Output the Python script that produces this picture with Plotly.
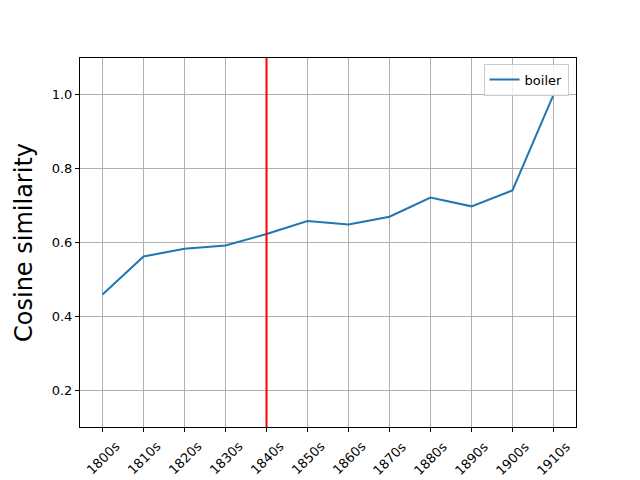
import plotly.graph_objs as go

# decades and similarity values
decades = ['1800s', '1810s', '1820s', '1830s', '1840s', '1850s',
           '1860s', '1870s', '1880s', '1890s', '1900s', '1910s']
boiler = [0.459, 0.562, 0.583, 0.592, 0.623, 0.658,
          0.649, 0.670, 0.722, 0.698, 0.741, 1.0]
marker_decade = '1840s'
y_ticks = [0.2, 0.4, 0.6, 0.8, 1.0]

trace = go.Scatter(x=decades, y=boiler, mode='lines', name='boiler',
                   line=dict(color='#1f77b4', width=2))

axis_style = dict(showline=True, linecolor='black', linewidth=1, mirror=True,
                  ticks='outside', ticklen=4, tickcolor='black', automargin=False,
                  showgrid=True, gridcolor='#b0b0b0', gridwidth=1,
                  zeroline=False, tickfont=dict(family='DejaVu Sans', size=13, color='black'))

# page body adds 8px offset, so the figure is 8px smaller than the window
layout = go.Layout(
    width=632, height=472,
    paper_bgcolor='white', plot_bgcolor='white',
    margin=dict(l=72, r=64, t=50, b=53),
    showlegend=True,
    legend=dict(x=0.985, y=0.985, xanchor='right', yanchor='top',
                bordercolor='#cccccc', borderwidth=1, bgcolor='rgba(255,255,255,0.8)',
                font=dict(family='DejaVu Sans', size=13, color='black')),
    xaxis=dict(axis_style, type='category', showticklabels=False,
               range=[-0.55, len(decades) - 0.45]),
    yaxis=dict(axis_style, range=[0.1, 1.1], tickvals=y_ticks, tickformat='.1f',
               title=dict(text='Cosine similarity', font=dict(family='DejaVu Sans', size=24, color='black'),
                          standoff=12)),
)

fig = go.Figure(data=[trace], layout=layout)

# x tick labels rotated about their centre, like matplotlib
for d in decades:
    fig.add_annotation(x=d, xref='x', y=0, yref='paper', text=d, showarrow=False,
                       textangle=-45, xanchor='center', yanchor='middle', yshift=-31,
                       font=dict(family='DejaVu Sans', size=13, color='black'))

# red vertical marker line
fig.add_shape(type='line', xref='x', yref='paper', x0=marker_decade, x1=marker_decade,
              y0=0, y1=1, line=dict(color='red', width=2))

fig.write_html("out.html")
